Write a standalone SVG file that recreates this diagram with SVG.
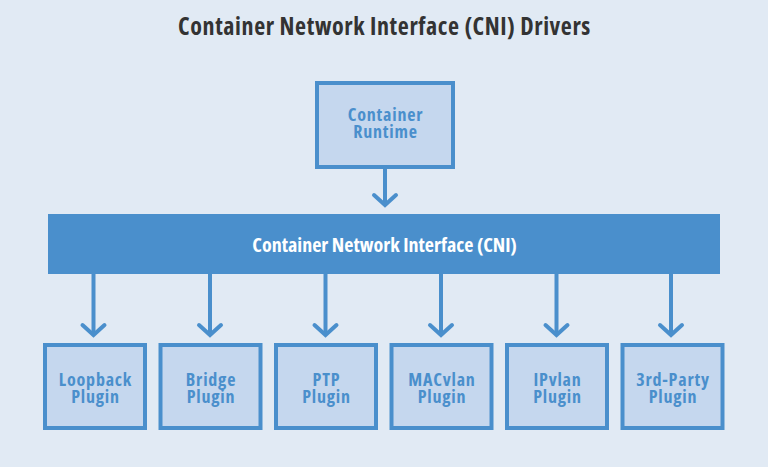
<svg xmlns="http://www.w3.org/2000/svg" width="768" height="467" viewBox="0 0 768 467">
<style>
.bg{fill:#e1eaf4}
.box{fill:#c5d7ee;stroke:#4a8fcc;stroke-width:4}
.lbl{font-family:"Open Sans","Liberation Sans",sans-serif;font-weight:700;font-stretch:condensed;font-size:18px;letter-spacing:0.8px;fill:#4a8fcc;text-anchor:middle}
.title{font-family:"Open Sans","Liberation Sans",sans-serif;font-weight:700;font-stretch:condensed;font-size:24px;letter-spacing:0.6px;fill:#333333;text-anchor:middle}
.bar{fill:#4a8fcc}
.barlbl{font-family:"Open Sans","Liberation Sans",sans-serif;font-weight:700;font-stretch:condensed;font-size:20px;fill:#ffffff;text-anchor:middle}
.conn{stroke:#4a8fcc;stroke-width:4;fill:none}
.head{stroke:#4a8fcc;stroke-width:4;fill:none;stroke-linecap:round;stroke-linejoin:miter}
</style>
<rect class="bg" x="0" y="0" width="768" height="467"/>
<text class="title" x="384.5" y="35">Container Network Interface (CNI) Drivers</text>
<g id="runtime">
<rect class="box" x="317" y="83" width="136" height="84"/>
<text class="lbl" x="385.5" y="121">Container</text>
<text class="lbl" x="385.5" y="137.5">Runtime</text>
</g>
<g id="cni">
<rect class="bar" x="48" y="214" width="672" height="60"/>
<text class="barlbl" x="384.5" y="251.5">Container Network Interface (CNI)</text>
</g>
<g id="loopback">
<rect class="box" x="45" y="345" width="100" height="83"/>
<text class="lbl" x="95.5" y="386">Loopback</text>
<text class="lbl" x="95.5" y="402.5">Plugin</text>
</g>
<g id="bridge">
<rect class="box" x="160.5" y="345" width="100" height="83"/>
<text class="lbl" x="211" y="386">Bridge</text>
<text class="lbl" x="211" y="402.5">Plugin</text>
</g>
<g id="ptp">
<rect class="box" x="276" y="345" width="100" height="83"/>
<text class="lbl" x="326.5" y="386">PTP</text>
<text class="lbl" x="326.5" y="402.5">Plugin</text>
</g>
<g id="macvlan">
<rect class="box" x="391.5" y="345" width="100" height="83"/>
<text class="lbl" x="442" y="386">MACvlan</text>
<text class="lbl" x="442" y="402.5">Plugin</text>
</g>
<g id="ipvlan">
<rect class="box" x="507" y="345" width="100" height="83"/>
<text class="lbl" x="557.5" y="386">IPvlan</text>
<text class="lbl" x="557.5" y="402.5">Plugin</text>
</g>
<g id="thirdparty">
<rect class="box" x="622.5" y="345" width="100" height="83"/>
<text class="lbl" x="673" y="386">3rd-Party</text>
<text class="lbl" x="673" y="402.5">Plugin</text>
</g>
<g id="connectors">
<line class="conn" x1="385" y1="169" x2="385" y2="205"/>
<polyline class="head" points="374,195 385,205 396,195"/>
<line class="conn" x1="93.5" y1="274" x2="93.5" y2="335"/>
<polyline class="head" points="82.5,325 93.5,335 104.5,325"/>
<line class="conn" x1="210" y1="274" x2="210" y2="335"/>
<polyline class="head" points="199,325 210,335 221,325"/>
<line class="conn" x1="325.5" y1="274" x2="325.5" y2="335"/>
<polyline class="head" points="314.5,325 325.5,335 336.5,325"/>
<line class="conn" x1="441" y1="274" x2="441" y2="335"/>
<polyline class="head" points="430,325 441,335 452,325"/>
<line class="conn" x1="556.5" y1="274" x2="556.5" y2="335"/>
<polyline class="head" points="545.5,325 556.5,335 567.5,325"/>
<line class="conn" x1="671" y1="274" x2="671" y2="335"/>
<polyline class="head" points="660,325 671,335 682,325"/>
</g>
</svg>
